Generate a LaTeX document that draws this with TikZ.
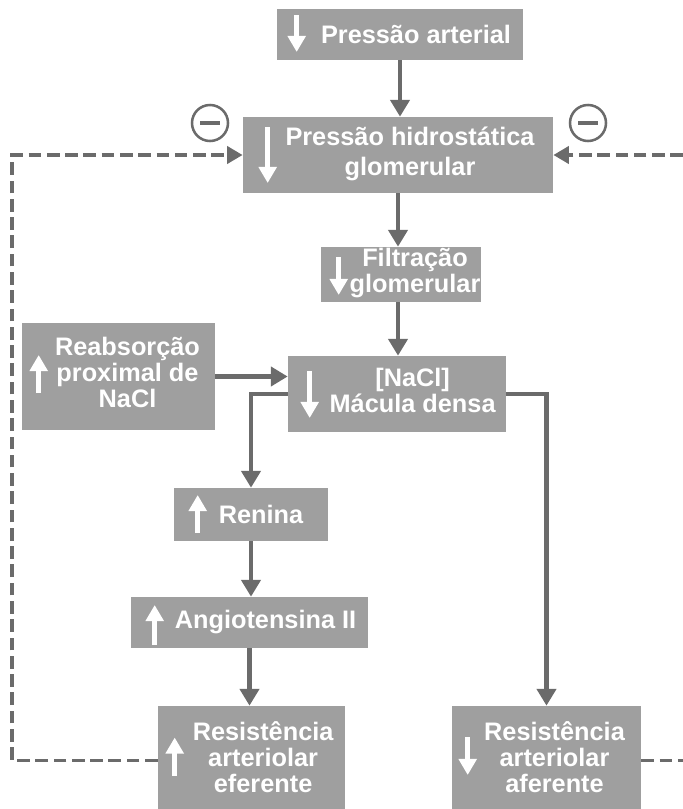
\documentclass[tikz,border=0pt]{standalone}
\usepackage{fontspec}
\setmainfont{Liberation Sans}
\usetikzlibrary{arrows.meta}

\definecolor{caixacinza}{HTML}{9F9F9F}
\definecolor{linhacinza}{HTML}{6B6B6B}

\newcommand{\linhas}[1]{\begin{tabular}{@{}c@{}}#1\end{tabular}}

\tikzset{
  caixa/.style={fill=caixacinza, text=white, inner sep=0pt,
    font=\fontsize{18}{18}\selectfont\bfseries},
  liga/.style={draw=linhacinza, line width=3.5pt, -{Triangle[length=12pt,width=13.5pt]}},
  retro/.style={draw=linhacinza, line width=2.8pt, dash pattern=on 9pt off 4pt,
    -{Triangle[length=11pt,width=12pt]}},
  seta/.style={draw=white, line width=3.2pt, -{Triangle[length=11.5pt,width=12.5pt]}},
  menos/.style={circle, draw=linhacinza, line width=1.8pt, minimum size=0.9cm,
    inner sep=0pt, text=linhacinza}
}

\begin{document}
\begin{tikzpicture}[x=0.025cm, y=-0.025cm]
  \useasboundingbox (0,0) rectangle (683,809);

  % Caixas
  \node[caixa, minimum width=6.15cm, minimum height=1.275cm] (pa) at (400,34.5)
    {\hspace*{0.8cm}Pressão arterial};
  \node[caixa, minimum width=7.75cm, minimum height=1.9cm] (phg) at (398,155)
    {\hspace*{0.6cm}\raisebox{-3pt}{\linhas{Pressão hidrostática\\[3pt]glomerular}}};
  \node[caixa, minimum width=4.0cm, minimum height=1.375cm] (fg) at (401,274.5)
    {\hspace*{0.7cm}\linhas{Filtração\\glomerular}};
  \node[caixa, minimum width=4.825cm, minimum height=2.675cm] (rpn) at (118.5,376.5)
    {\hspace*{0.45cm}\linhas{Reabsorção\\proximal de\\NaCl}};
  \node[caixa, minimum width=5.45cm, minimum height=1.9cm] (nacl) at (397,394)
    {\hspace*{0.78cm}\linhas{[NaCl]\\Mácula densa}};
  \node[caixa, minimum width=3.85cm, minimum height=1.325cm] (ren) at (251,514.5)
    {\hspace*{0.5cm}Renina};
  \node[caixa, minimum width=5.925cm, minimum height=1.275cm] (ang) at (249.5,622.5)
    {\hspace*{0.8cm}Angiotensina II};
  \node[caixa, minimum width=4.675cm, minimum height=2.725cm] (ref) at (251.5,760.5)
    {\hspace*{0.58cm}\raisebox{-3pt}{\linhas{Resistência\\arteriolar\\eferente}}};
  \node[caixa, minimum width=4.725cm, minimum height=2.725cm] (raf) at (546.5,760.5)
    {\hspace*{0.4cm}\raisebox{-3pt}{\linhas{Resistência\\arteriolar\\aferente}}};

  % Setas brancas dentro das caixas
  \draw[seta] ([shift={(20,-19.5)}]pa.west) -- ++(0,37);
  \draw[seta] ([shift={(25,-28)}]phg.west) -- ++(0,56);
  \draw[seta] ([shift={(18,-17.5)}]fg.west) -- ++(0,38);
  \draw[seta] ([shift={(17,16.5)}]rpn.west) -- ++(0,-38);
  \draw[seta] ([shift={(22,-23)}]nacl.west) -- ++(0,47);
  \draw[seta] ([shift={(24,18.5)}]ren.west) -- ++(0,-38);
  \draw[seta] ([shift={(24,22.5)}]ang.west) -- ++(0,-40);
  \draw[seta] ([shift={(17,15)}]ref.west) -- ++(0,-38);
  \draw[seta] ([shift={(16,-23.5)}]raf.west) -- ++(0,38);

  % Ligacoes
  \draw[liga] (pa.south) -- (pa.south |- phg.north);
  \draw[liga] (phg.south) -- (phg.south |- fg.north);
  \draw[liga] (phg.south |- fg.south) -- (phg.south |- nacl.north);
  \draw[liga] (rpn.east) -- (rpn.east -| nacl.west);
  \draw[liga] (nacl.west) -| (ren.north);
  \draw[liga] (ren.south) -- (ren.south |- ang.north);
  \draw[liga] (ang.south) -- (ang.south |- ref.north);
  \draw[liga] (nacl.east) -| (raf.north);

  % Retroalimentacao
  \coordinate (esq) at (12,0);
  \coordinate (dir) at (683,0);
  \draw[retro] (ref.west) -| (esq |- phg.west) -- (phg.west);
  \draw[retro, -] (raf.east) -- (raf.east -| dir);
  \draw[retro] (dir |- phg.east) -- (phg.east);

  \node[menos] (m1) at (210,123) {\rule{0.5cm}{3.2pt}};
  \node[menos] (m2) at (588,123) {\rule{0.5cm}{3.2pt}};
\end{tikzpicture}
\end{document}
